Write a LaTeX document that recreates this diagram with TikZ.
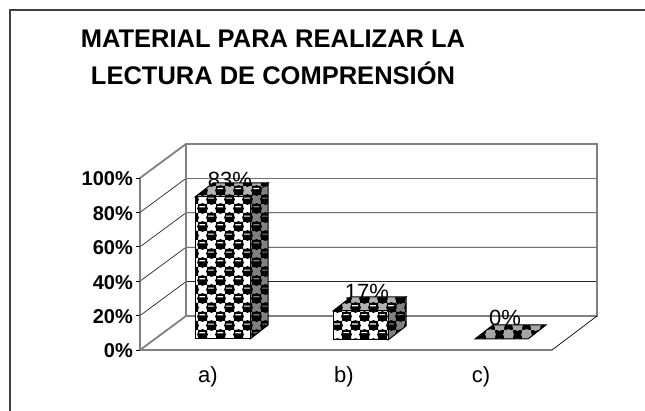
\documentclass[tikz,border=0pt]{standalone}
\usepackage{fontspec}
\setmainfont{Liberation Sans}
\usetikzlibrary{patterns}
\pgfdeclarepatternformonly{blobs}{\pgfqpoint{-1pt}{-1pt}}{\pgfqpoint{19pt}{19pt}}{\pgfqpoint{18pt}{18pt}}{%
  \pgfpathrectangle{\pgfqpoint{0pt}{0pt}}{\pgfqpoint{9pt}{9pt}}
  \pgfpathrectangle{\pgfqpoint{9pt}{9pt}}{\pgfqpoint{9pt}{9pt}}
  \pgfpathcircle{\pgfqpoint{4.5pt}{4.5pt}}{5.4pt}
  \pgfpathcircle{\pgfqpoint{13.5pt}{13.5pt}}{5.4pt}
  \pgfsetnonzerorule
  \pgfusepath{fill}}
\pgfdeclarepatternformonly{slits}{\pgfqpoint{0pt}{0pt}}{\pgfqpoint{18pt}{18pt}}{\pgfqpoint{18pt}{18pt}}{%
  \pgfpathrectangle{\pgfqpoint{1.5pt}{6pt}}{\pgfqpoint{6pt}{1.2pt}}
  \pgfpathrectangle{\pgfqpoint{10.5pt}{15pt}}{\pgfqpoint{6pt}{1.2pt}}
  \pgfusepath{fill}}
\tikzset{wall/.style={draw=black!50,line width=1.8pt}}
\tikzset{gridline/.style={draw=black!85,line width=0.7pt}}
\tikzset{frontface/.style={draw=black,line width=1pt,preaction={fill=white},preaction={pattern=blobs},preaction={pattern=slits,pattern color=white}}}
\tikzset{sideface/.style={draw=black,line width=1pt,preaction={fill=black!50},preaction={pattern=blobs},preaction={pattern=slits,pattern color=black!50}}}
\tikzset{topface/.style={draw=black,line width=1pt,preaction={fill=black!30},preaction={pattern=blobs},preaction={pattern=slits,pattern color=white}}}
\tikzset{flatface/.style={draw=black,line width=1pt,preaction={fill=black},preaction={pattern=blobs,pattern color=black!35}}}
\tikzset{etiqueta/.style={font=\fontsize{22}{24}\selectfont}}
\newcommand{\barra}[4]{%
  \draw[sideface] (#2,#3) -- ++(18,-14) -- (#2+18,#4-14) -- (#2,#4) -- cycle;
  \draw[topface] (#1,#3) -- ++(18,-14) -- (#2+18,#3-14) -- (#2,#3) -- cycle;
  \draw[frontface] (#1,#3) rectangle (#2,#4);}

\begin{document}
\begin{tikzpicture}[x=1pt,y=-1pt]
    \useasboundingbox (0,0) rectangle (645,411);
    \draw [black!75,line width=1.3pt] (10,430) -- (10,10) -- (660,10);
    \node [font=\fontsize{25.5}{37}\selectfont\bfseries,align=center] (titulo) at (273,57)
        {MATERIAL PARA REALIZAR LA\\LECTURA DE COMPRENSIÓN};
    \foreach \k in {1,...,4}
        \draw [gridline] (140,350-34.4*\k) -- ++(46,-34) -- (597,316-34.4*\k);
    \draw [wall] (140,350) -- (140,178) -- (186,144) -- (597,144) -- (597,316) -- (186,316) -- (186,144);
    \draw [wall] (186,316) -- (140,350) -- (552,350);
    \draw [line width=0.7pt] (552,350) -- (597,316);
    \foreach \k/\t in {0/0,1/20,2/40,3/60,4/80,5/100} {
        \draw [line width=0.7pt] (136,350-34.4*\k) -- (140,350-34.4*\k);
        \node [anchor=east,inner sep=0pt,font=\fontsize{20}{22}\selectfont\bfseries] (p\t) at (133,351-34.4*\k) {\t\%};
    }
    \node [etiqueta] (va) at (230,180) {83\%};
    \node [etiqueta] (vb) at (367,292) {17\%};
    \node [etiqueta] (vc) at (505,318) {0\%};
    \barra{195}{250}{197}{339}
    \barra{333}{388}{311}{340}
    \draw [flatface] (475,339) -- (528,339) -- (546,325) -- (493,325) -- cycle;
    \node [etiqueta] (ca) at (208,377) {a)};
    \node [etiqueta] (cb) at (344,377) {b)};
    \node [etiqueta] (cc) at (481,377) {c)};
\end{tikzpicture}
\end{document}
